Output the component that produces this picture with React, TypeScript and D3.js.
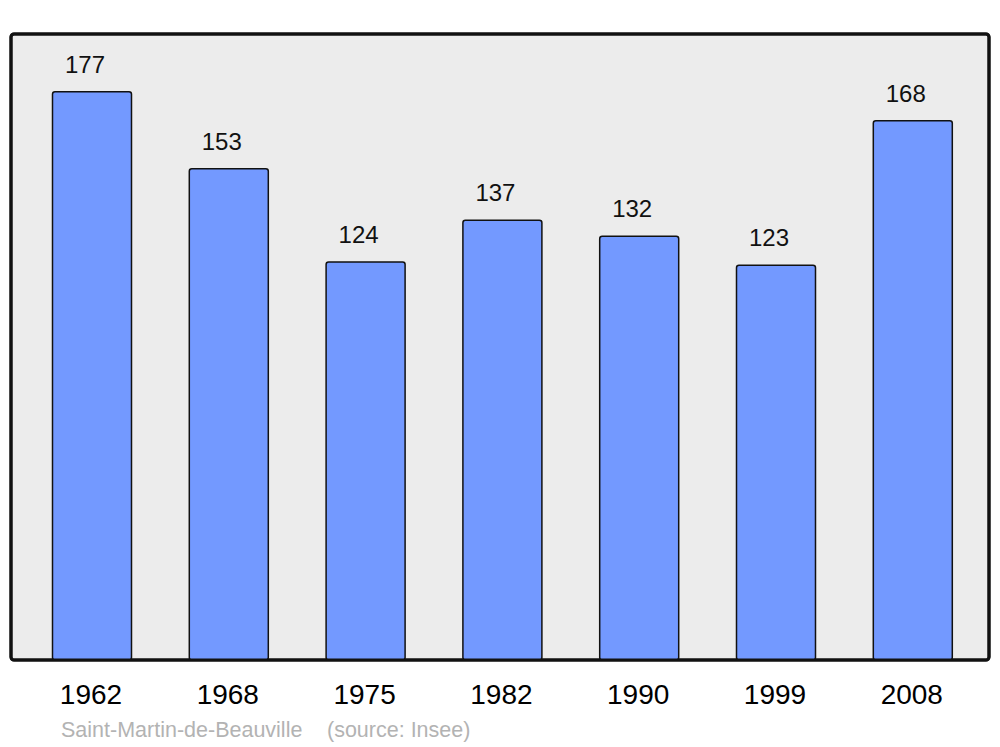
import React from "react";
import * as d3 from "d3";

const years = ["1962", "1968", "1975", "1982", "1990", "1999", "2008"];
const population = [177, 153, 124, 137, 132, 123, 168];
const footerName = "Saint-Martin-de-Beauville";
const footerSource = "(source: Insee)";

export default function App() {
  const W = 1000, H = 747;
  const frame = { x: 11, y: 34, w: 978, h: 626 };
  const x = d3.scaleBand<string>().domain(years).range([23.6, 981.2]).paddingInner(0.4225).paddingOuter(0.21125);
  const y = d3.scaleLinear().domain([0, 195]).range([660, 34]);
  const font = "'Liberation Sans', Arial, sans-serif";
  return (
    <svg width={W} height={H} style={{ position: "absolute", left: 0, top: 0 }} fontFamily={font}>
      <rect x={0} y={0} width={W} height={H} fill="#ffffff" />
      <rect x={frame.x} y={frame.y} width={frame.w} height={frame.h} rx={3} ry={3} fill="#ececec" stroke="#111" strokeWidth={3} />
      {years.map((yr, i) => {
        const v = population[i];
        const bx = x(yr)!;
        const bw = x.bandwidth();
        const top = y(v);
        return (
          <g key={yr}>
            <rect x={bx} y={top} width={bw} height={y(0) - top} rx={2.5} ry={2.5} fill="#7399ff" stroke="#111" strokeWidth={1.5} />
            <text x={bx + bw / 2 - 7} y={top - 19} textAnchor="middle" fontSize={24} fill="#111">{v}</text>
            <text x={bx + bw / 2 - 1} y={704} textAnchor="middle" fontSize={28} fill="#000">{yr}</text>
          </g>
        );
      })}
      <rect x={frame.x} y={frame.y} width={frame.w} height={frame.h} rx={3} ry={3} fill="none" stroke="#111" strokeWidth={3} />
      <text x={61} y={737} fontSize={21.5} fill="#b3b3b3">{footerName}</text>
      <text x={327} y={737} fontSize={21.5} fill="#b3b3b3">{footerSource}</text>
    </svg>
  );
}
